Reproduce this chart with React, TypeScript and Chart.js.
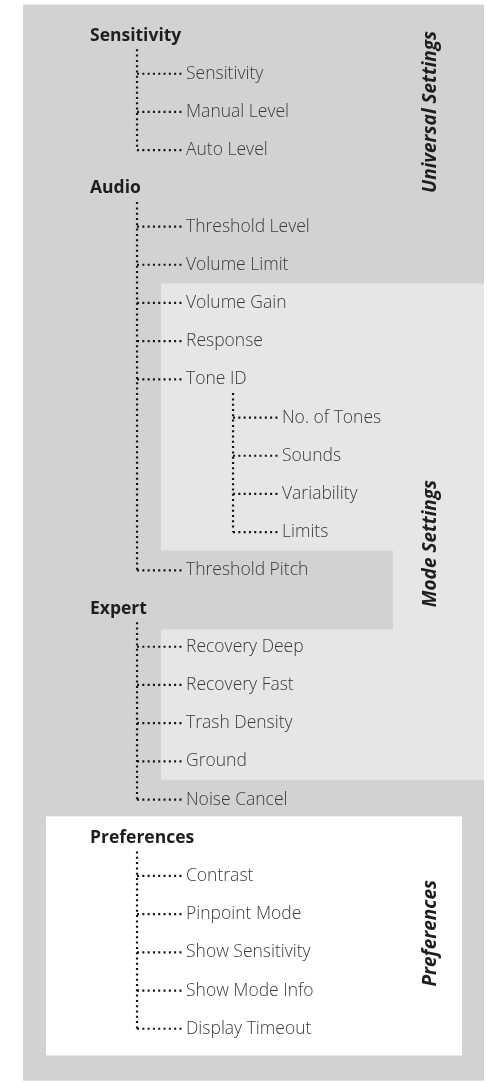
import React, { useEffect, useRef } from "react";
import { Chart, registerables } from "chart.js";

Chart.register(...registerables);

// ---- data: the menu tree (row = index) ----
const nodeLabels = [
  "Sensitivity", "Sensitivity", "Manual Level", "Auto Level",
  "Audio", "Threshold Level", "Volume Limit", "Volume Gain", "Response", "Tone ID",
  "No. of Tones", "Sounds", "Variability", "Limits", "Threshold Pitch",
  "Expert", "Recovery Deep", "Recovery Fast", "Trash Density", "Ground", "Noise Cancel",
  "Preferences", "Contrast", "Pinpoint Mode", "Show Sensitivity", "Show Mode Info", "Display Timeout",
];
const nodeLevels = [0, 1, 1, 1, 0, 1, 1, 1, 1, 1, 2, 2, 2, 2, 1, 0, 1, 1, 1, 1, 1, 0, 1, 1, 1, 1, 1];
const nodeParents = [-1, 0, 0, 0, -1, 4, 4, 4, 4, 4, 9, 9, 9, 9, 4, -1, 15, 15, 15, 15, 15, -1, 21, 21, 21, 21, 21];

const sectionLabels = ["Universal Settings", "Mode Settings", "Preferences"];
const sectionRows = [2.0, 13.3, 23.5];

// ---- layout (in level / row units) ----
const X_MIN = -0.9375;
const X_MAX = 4.1354;
const Y_MIN = -0.93;
const Y_MAX = 27.42;
const SECTION_X = 3.55;
const VERT_OFFSET = 0.49;
const HORIZ_END = -0.03;
const VERT_START = 0.36;

const grayPanel = { x0: -0.698, x1: 4.104, y0: -0.81, y1: 27.36 };
const lightPanel = [
  [0.74, 6.49], [4.104, 6.49], [4.104, 19.48], [0.74, 19.48],
  [0.74, 15.55], [3.156, 15.55], [3.156, 13.48], [0.74, 13.48],
];
const whitePanel = { x0: -0.458, x1: 3.875, y0: 20.44, y1: 26.7 };

const COLORS = {
  gray: "#d1d2d4",
  light: "#e5e6e8",
  white: "#ffffff",
  dots: "#111111",
  header: "#1e1e1e",
  item: "#3a3a3c",
};

function buildConnectors() {
  const sets: any[] = [];
  const dotted = {
    showLine: true,
    pointRadius: 0,
    borderColor: COLORS.dots,
    borderWidth: 2.2,
    borderDash: [2, 3.3],
    borderCapStyle: "butt",
    fill: false,
  };
  nodeLabels.forEach((_, p) => {
    const kids = nodeParents.map((par, i) => (par === p ? i : -1)).filter((i) => i >= 0);
    if (!kids.length) return;
    const vx = nodeLevels[p] + VERT_OFFSET;
    const last = kids[kids.length - 1];
    sets.push({ ...dotted, data: [{ x: vx, y: p + VERT_START }, { x: vx, y: last }] });
    kids.forEach((k) => {
      sets.push({ ...dotted, data: [{ x: vx, y: k }, { x: nodeLevels[k] + HORIZ_END, y: k }] });
    });
  });
  return sets;
}

const panelsPlugin = {
  id: "panels",
  beforeDatasetsDraw(chart: any) {
    const { ctx, scales } = chart;
    const xs = scales.x, ys = scales.y;
    const px = (v: number) => xs.getPixelForValue(v);
    const py = (v: number) => ys.getPixelForValue(v);
    ctx.save();
    ctx.fillStyle = COLORS.gray;
    ctx.fillRect(px(grayPanel.x0), py(grayPanel.y0), px(grayPanel.x1) - px(grayPanel.x0), py(grayPanel.y1) - py(grayPanel.y0));
    ctx.fillStyle = COLORS.light;
    ctx.beginPath();
    lightPanel.forEach(([x, y], i) => (i ? ctx.lineTo(px(x), py(y)) : ctx.moveTo(px(x), py(y))));
    ctx.closePath();
    ctx.fill();
    ctx.fillStyle = COLORS.white;
    ctx.fillRect(px(whitePanel.x0), py(whitePanel.y0), px(whitePanel.x1) - px(whitePanel.x0), py(whitePanel.y1) - py(whitePanel.y0));
    ctx.restore();
  },
};

const labelsPlugin = {
  id: "treeLabels",
  afterDatasetsDraw(chart: any) {
    const { ctx, scales } = chart;
    const xs = scales.x, ys = scales.y;
    ctx.save();
    ctx.textBaseline = "middle";
    ctx.textAlign = "left";
    nodeLabels.forEach((label, i) => {
      const isHeader = nodeParents[i] < 0;
      ctx.font = isHeader ? "bold 17.5px 'Open Sans'" : "300 17.5px 'Open Sans'";
      ctx.fillStyle = isHeader ? COLORS.header : COLORS.item;
      ctx.fillText(label, xs.getPixelForValue(nodeLevels[i]), ys.getPixelForValue(i));
    });
    ctx.font = "italic bold 19px 'Open Sans'";
    ctx.fillStyle = COLORS.header;
    ctx.textAlign = "center";
    sectionLabels.forEach((label, i) => {
      ctx.save();
      ctx.translate(xs.getPixelForValue(SECTION_X), ys.getPixelForValue(sectionRows[i]));
      ctx.rotate(-Math.PI / 2);
      ctx.fillText(label, 0, 0);
      ctx.restore();
    });
    ctx.restore();
  },
};

export default function App() {
  const ref = useRef<HTMLCanvasElement | null>(null);
  useEffect(() => {
    if (!ref.current) return;
    const chart = new Chart(ref.current, {
      type: "scatter",
      data: { datasets: buildConnectors() },
      options: {
        animation: false,
        responsive: true,
        maintainAspectRatio: false,
        layout: { padding: 0 },
        plugins: { legend: { display: false }, tooltip: { enabled: false } },
        events: [],
        scales: {
          x: { type: "linear", min: X_MIN, max: X_MAX, display: false },
          y: { type: "linear", min: Y_MIN, max: Y_MAX, reverse: true, display: false },
        },
      } as any,
      plugins: [panelsPlugin, labelsPlugin],
    });
    return () => chart.destroy();
  }, []);
  return (
    <div style={{ position: "absolute", left: 0, top: 0, width: 487, height: 1083, background: "#fff" }}>
      <canvas ref={ref} />
    </div>
  );
}
